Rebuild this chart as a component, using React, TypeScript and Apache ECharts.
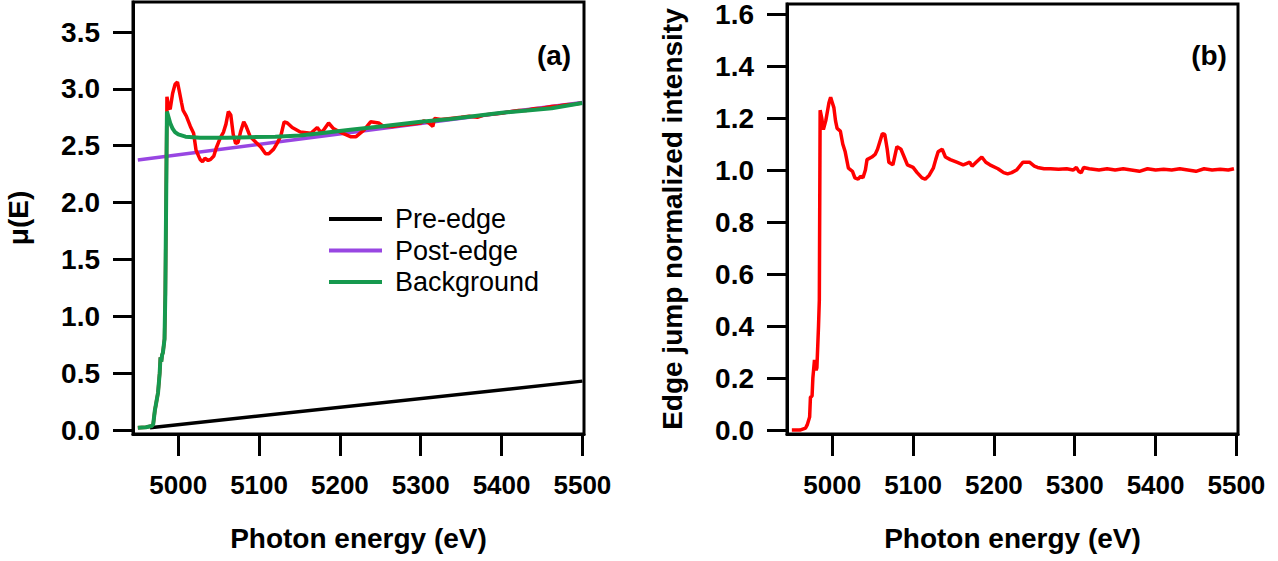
import React, { useEffect, useRef } from "react";
import * as echarts from "echarts";

// Tick values
const energyTicks = [5000, 5100, 5200, 5300, 5400, 5500];
const muTicks = [0, 0.5, 1.0, 1.5, 2.0, 2.5, 3.0, 3.5];
const normTicks = [0, 0.2, 0.4, 0.6, 0.8, 1.0, 1.2, 1.4, 1.6];

// Panel (a): pre-edge line
const preEdgeE = [4965, 5500];
const preEdgeMu = [0.02, 0.43];

// Panel (a): post-edge line
const postEdgeE = [4950, 5500];
const postEdgeMu = [2.375, 2.88];

// Panel (a): raw mu(E)
const rawE = [
  4950, 4960, 4967, 4969, 4971, 4973, 4975, 4977, 4978, 4979, 4980, 4981, 4983, 4984, 4985, 4986,
  4988, 4990, 4993, 4996, 4999, 5001, 5004, 5006, 5010, 5015, 5019, 5022, 5027, 5030, 5033, 5037,
  5040, 5044, 5047, 5052, 5056, 5059, 5062, 5065, 5068, 5071, 5074, 5077, 5081, 5084, 5089, 5096,
  5102, 5108, 5112, 5118, 5123, 5127, 5131, 5135, 5141, 5151, 5164, 5172, 5176, 5179, 5186, 5192,
  5203, 5213, 5220, 5230, 5238, 5248, 5254, 5265, 5275, 5290, 5300, 5304, 5310, 5315, 5317, 5325,
  5337, 5350, 5360, 5370, 5378, 5390, 5400, 5410, 5421, 5430, 5440, 5450, 5462, 5470, 5480, 5490, 5499,
];
const rawMu = [
  0.02, 0.025, 0.035, 0.05, 0.17, 0.25, 0.33, 0.5, 0.64, 0.6, 0.66, 0.68, 0.8, 1.2, 2.0, 2.93,
  2.84, 2.82, 2.96, 3.04, 3.06, 2.99, 2.88, 2.81, 2.76, 2.67, 2.61, 2.46, 2.38, 2.36, 2.39, 2.37,
  2.38, 2.41, 2.48, 2.57, 2.62, 2.69, 2.8, 2.77, 2.6, 2.52, 2.53, 2.62, 2.71, 2.67, 2.58, 2.53,
  2.49, 2.43, 2.43, 2.47, 2.53, 2.59, 2.71, 2.7, 2.66, 2.62, 2.61, 2.66, 2.62, 2.63, 2.7, 2.65,
  2.61, 2.58, 2.58, 2.64, 2.71, 2.7, 2.67, 2.67, 2.68, 2.69, 2.7, 2.72, 2.7, 2.67, 2.74, 2.73,
  2.74, 2.75, 2.76, 2.75, 2.77, 2.78, 2.785, 2.8, 2.81, 2.81, 2.825, 2.83, 2.845, 2.85, 2.86, 2.865, 2.876,
];

// Panel (a): background spline
const bkgE = [
  4950, 4960, 4967, 4969, 4971, 4973, 4975, 4977, 4978, 4979, 4980, 4981, 4983, 4984, 4985, 4986,
  4988, 4990, 4993, 4996, 5000, 5009, 5027, 5060, 5089, 5120, 5151, 5176, 5213, 5250, 5300, 5337,
  5400, 5462, 5500,
];
const bkgMu = [
  0.02, 0.025, 0.035, 0.05, 0.17, 0.25, 0.33, 0.5, 0.64, 0.6, 0.66, 0.68, 0.8, 1.2, 2.0, 2.8,
  2.75, 2.7, 2.65, 2.62, 2.6, 2.58, 2.57, 2.57, 2.575, 2.58, 2.59, 2.61, 2.64, 2.67, 2.71, 2.735,
  2.79, 2.83, 2.876,
];

// Panel (b): edge-jump normalized intensity
const normE = [
  4950, 4955, 4960, 4967, 4969, 4972, 4973, 4975, 4976, 4978, 4980, 4981, 4983, 4984, 4985, 4987,
  4989, 4992, 4994, 4996, 4998, 5000, 5002, 5004, 5006, 5010, 5013, 5016, 5020, 5025, 5028, 5032,
  5035, 5038, 5041, 5043, 5049, 5053, 5056, 5060, 5062, 5065, 5068, 5070, 5075, 5080, 5085, 5089,
  5093, 5100, 5105, 5111, 5115, 5120, 5125, 5128, 5131, 5136, 5140, 5146, 5154, 5162, 5166, 5170,
  5173, 5178, 5185, 5190, 5195, 5205, 5212, 5217, 5222, 5228, 5232, 5236, 5244, 5250, 5254, 5262,
  5270, 5280, 5290, 5298, 5302, 5305, 5308, 5311, 5318, 5330, 5340, 5350, 5360, 5370, 5380, 5390,
  5400, 5410, 5420, 5430, 5440, 5450, 5460, 5470, 5480, 5490, 5497,
];
const normMu = [
  0.0, 0.0, 0.0, 0.008, 0.02, 0.05, 0.127, 0.13, 0.2, 0.27, 0.23, 0.24, 0.4, 0.5, 1.23, 1.2,
  1.156, 1.19, 1.225, 1.26, 1.28, 1.26, 1.24, 1.19, 1.16, 1.15, 1.1, 1.07, 1.007, 0.995, 0.97, 0.965,
  0.976, 0.97, 1.0, 1.04, 1.05, 1.06, 1.08, 1.12, 1.14, 1.137, 1.08, 1.03, 1.02, 1.09, 1.08, 1.05,
  1.02, 1.01, 0.99, 0.97, 0.965, 0.98, 1.007, 1.04, 1.07, 1.08, 1.05, 1.04, 1.03, 1.02, 1.025, 1.03,
  1.015, 1.03, 1.05, 1.03, 1.02, 1.005, 0.99, 0.985, 0.99, 1.0, 1.015, 1.03, 1.03, 1.015, 1.01, 1.005,
  1.005, 1.003, 1.005, 1.0, 1.01, 0.995, 0.99, 1.01, 1.005, 1.0, 1.005, 1.0, 1.005, 1.0, 0.995, 1.005,
  1.0, 1.003, 1.0, 1.005, 1.0, 0.995, 1.005, 1.0, 1.003, 1.0, 1.005,
];

const zip = (xs: number[], ys: number[]) => xs.map((x, i) => [x, ys[i]]);

const FONT = "'Liberation Sans', Arial, Helvetica, sans-serif";

export default function App() {
  const ref = useRef<HTMLDivElement>(null);

  useEffect(() => {
    if (!ref.current) return;
    const chart = echarts.init(ref.current, null, { renderer: "svg" });

    const makeX = (gridIndex: number) => ({
      type: "value",
      gridIndex,
      min: 4944,
      max: 5502,
      name: "Photon energy (eV)",
      nameLocation: "middle",
      nameGap: 90,
      nameTextStyle: { fontSize: 28, fontWeight: "bold", color: "#000", fontFamily: FONT },
      axisLine: { show: true, onZero: false, lineStyle: { color: "#000", width: 3 } },
      axisTick: { show: true, length: 22, customValues: energyTicks, lineStyle: { color: "#000", width: 3 } },
      axisLabel: {
        customValues: energyTicks,
        margin: 38,
        fontSize: 26,
        fontWeight: "bold",
        color: "#000",
        fontFamily: FONT,
        formatter: (v: number) => String(v),
      },
      splitLine: { show: false },
    });

    const makeY = (gridIndex: number, name: string, min: number, max: number, ticks: number[]) => ({
      type: "value",
      gridIndex,
      min,
      max,
      name,
      nameLocation: "middle",
      nameGap: 101,
      nameTextStyle: { fontSize: 28, fontWeight: "bold", color: "#000", fontFamily: FONT },
      axisLine: { show: true, onZero: false, lineStyle: { color: "#000", width: 3 } },
      axisTick: { show: true, length: 20, customValues: ticks, lineStyle: { color: "#000", width: 3 } },
      axisLabel: {
        customValues: ticks,
        margin: 33,
        fontSize: 28,
        fontWeight: "bold",
        color: "#000",
        fontFamily: FONT,
        formatter: (v: number) => v.toFixed(1),
      },
      splitLine: { show: false },
    });

    const lineSeries = (name: string, data: number[][], color: string, xi: number, width = 3.5) => ({
      type: "line",
      name,
      data,
      xAxisIndex: xi,
      yAxisIndex: xi,
      symbol: "none",
      showSymbol: false,
      lineStyle: { color, width },
      itemStyle: { color },
      emphasis: { disabled: true },
    });

    chart.setOption({
      animation: false,
      backgroundColor: "#fff",
      grid: [
        { left: 133, width: 451, top: 2, height: 432, show: true, borderColor: "#000", borderWidth: 3 },
        { left: 787, width: 451, top: 2, height: 432, show: true, borderColor: "#000", borderWidth: 3 },
      ],
      xAxis: [makeX(0), makeX(1)],
      yAxis: [
        makeY(0, "μ(E)", -0.035, 3.764, muTicks),
        makeY(1, "Edge jump normalized intensity", -0.015, 1.638, normTicks),
      ],
      legend: {
        data: ["Pre-edge", "Post-edge", "Background"],
        orient: "vertical",
        left: 327,
        top: 205,
        itemWidth: 53,
        itemHeight: 28,
        itemGap: 3.5,
        padding: 0,
        selectedMode: false,
        itemStyle: { opacity: 0, borderWidth: 0 },
        lineStyle: { width: 4 },
        textStyle: { fontSize: 27, lineHeight: 28, color: "#000", fontFamily: FONT, padding: [0, 0, 0, 8] },
      },
      graphic: [
        {
          type: "text",
          x: 554,
          y: 55,
          style: { text: "(a)", font: `bold 28px ${FONT}`, fill: "#000", align: "center", verticalAlign: "middle" },
        },
        {
          type: "text",
          x: 1209,
          y: 55,
          style: { text: "(b)", font: `bold 28px ${FONT}`, fill: "#000", align: "center", verticalAlign: "middle" },
        },
      ],
      series: [
        lineSeries("Pre-edge", zip(preEdgeE, preEdgeMu), "#000000", 0),
        lineSeries("Post-edge", zip(postEdgeE, postEdgeMu), "#9846e2", 0),
        lineSeries("μ(E)", zip(rawE, rawMu), "#ff0000", 0),
        lineSeries("Background", zip(bkgE, bkgMu), "#16994e", 0, 4),
        lineSeries("Normalized", zip(normE, normMu), "#ff0000", 1),
      ],
    });

    return () => chart.dispose();
  }, []);

  return (
    <div
      ref={ref}
      style={{ position: "fixed", left: 0, top: 0, width: 1278, height: 561, background: "#fff" }}
    />
  );
}
